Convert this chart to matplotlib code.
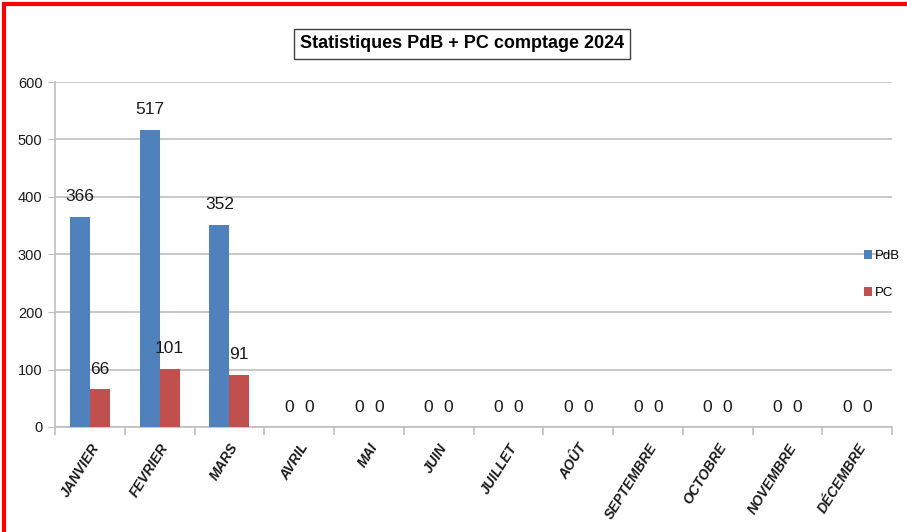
import matplotlib
matplotlib.use("Agg")
import matplotlib.pyplot as plt
import numpy as np
from matplotlib.patches import Rectangle

months = ["JANVIER", "FEVRIER", "MARS", "AVRIL", "MAI", "JUIN", "JUILLET",
          "AOÛT", "SEPTEMBRE", "OCTOBRE", "NOVEMBRE", "DÉCEMBRE"]
pdb = [366, 517, 352, 0, 0, 0, 0, 0, 0, 0, 0, 0]
pc = [66, 101, 91, 0, 0, 0, 0, 0, 0, 0, 0, 0]
yticks = [0, 100, 200, 300, 400, 500, 600]

FONT = ["Liberation Sans Narrow", "Liberation Sans", "DejaVu Sans"]
plt.rcParams['font.family'] = FONT

W, H = 907, 532
fig = plt.figure(figsize=(W / 100, H / 100), dpi=100)
ax = fig.add_axes([55 / W, 1 - 427 / H, (892 - 55) / W, (427 - 82) / H])

x = np.arange(len(months))
bw = 0.286
b1 = ax.bar(x - bw / 2, pdb, bw, color="#4F81BD", label="PdB", zorder=3)
b2 = ax.bar(x + bw / 2, pc, bw, color="#C0504D", label="PC", zorder=3)

for bars, vals in ((b1, pdb), (b2, pc)):
    for r, v in zip(bars, vals):
        ax.annotate(str(v), (r.get_x() + r.get_width() / 2, v),
                    xytext=(0, 9), textcoords="offset points",
                    ha="center", va="bottom", fontsize=12.5, color="#1a1a1a")

ax.set_xlim(-0.5, len(months) - 0.5)
ax.set_ylim(0, 600)
ax.set_yticks(yticks)
ax.set_yticklabels([str(v) for v in yticks], fontsize=10.5, color="#1a1a1a")
ax.yaxis.grid(True, color="#bfbfbf", linewidth=1.2, zorder=0)
ax.tick_params(axis="y", length=5, color="#bfbfbf", pad=4)

ax.set_xticks(x)
ax.set_xticklabels(months, rotation=58, ha="right", rotation_mode="anchor",
                   fontsize=10, fontweight="bold", fontstyle="italic", color="#1a1a1a")
ax.tick_params(axis="x", which="major", length=0, pad=10)
ax.set_xticks(np.arange(-0.5, len(months)), minor=True)
ax.tick_params(axis="x", which="minor", length=6, color="#bfbfbf", width=1.2)

for s in ("top", "right"):
    ax.spines[s].set_visible(False)
for s in ("left", "bottom"):
    ax.spines[s].set_color("#bfbfbf")
    ax.spines[s].set_linewidth(1.2)

leg = ax.legend(loc="upper left", bbox_to_anchor=(864 / W, 1 - 250 / H),
                bbox_transform=fig.transFigure, frameon=False, fontsize=9.5,
                handlelength=0.6, handleheight=0.6, handletextpad=0.2,
                labelspacing=1.9, borderpad=0, borderaxespad=0)

fig.text(462 / W, 1 - 44 / H, "Statistiques PdB + PC comptage 2024",
         ha="center", va="center", fontsize=13, fontweight="bold",
         bbox=dict(boxstyle="square,pad=0.35", facecolor="white",
                   edgecolor="#404040", linewidth=1))

fig.patches.append(Rectangle((4 / W, -0.05), 1.05, 1 - 4 / H + 0.05,
                             transform=fig.transFigure, fill=False,
                             edgecolor="#ff0000", linewidth=3))

fig.savefig("out.png", dpi=100)
